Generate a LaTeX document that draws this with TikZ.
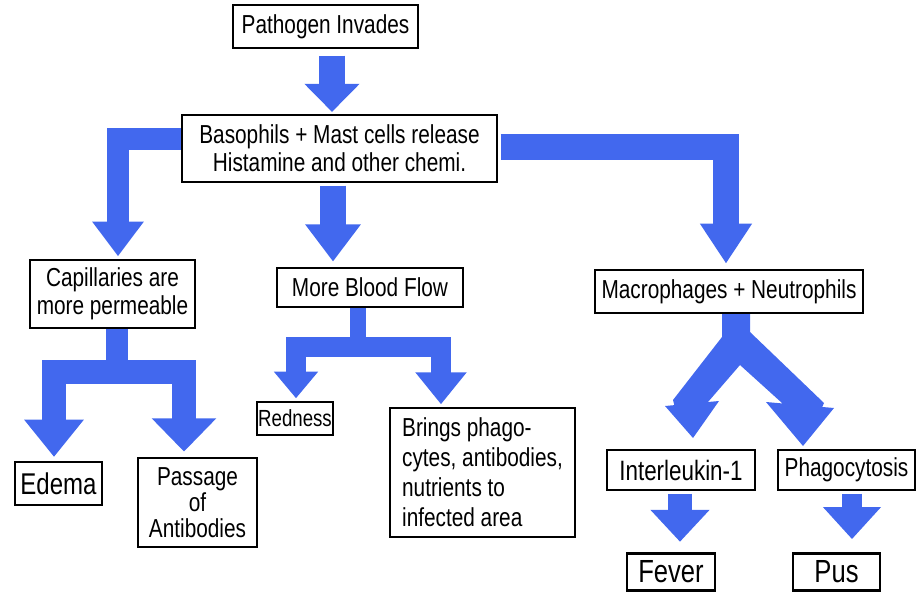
\documentclass[tikz,border=0pt]{standalone}
\usepackage{fontspec}
\setmainfont[FakeStretch=0.8]{Liberation Sans}
\usetikzlibrary{arrows.meta}
\definecolor{ablue}{RGB}{66,104,238}
\begin{document}
\begin{tikzpicture}[x=0.75pt,y=-0.75pt,
  box/.style={draw=black, line width=1.6pt, inner sep=0pt, align=center,
    font=\fontsize{19.5}{21}\selectfont},
  sz/.style 2 args={minimum width=#1*0.75pt, minimum height=#2*0.75pt},
  blk/.style={draw=ablue, line join=miter, line cap=butt},
]
\useasboundingbox (0,0) rectangle (922,593);

% boxes
\node[box, sz={185}{43}] (path) at (325.5,26.5) {Pathogen Invades};
\node[box, sz={315}{67}] (baso) at (339.5,148.5) {Basophils + Mast cells release\\Histamine and other chemi.};
\node[box, sz={165}{68}] (cap) at (112.5,294) {Capillaries are\\more permeable};
\node[box, sz={186}{39}] (blood) at (370,287.5) {More Blood Flow};
\node[box, sz={268}{43}] (macro) at (729,291.5) {Macrophages + Neutrophils};
\node[box, sz={87}{43}, font=\fontsize{22.5}{24}\selectfont] (edema) at (58.5,483.5) {Edema};
\node[box, sz={119}{89}, font=\fontsize{19.5}{19.5}\selectfont] (pass) at (197.5,502.5) {Passage\\of\\Antibodies};
\node[box, sz={76}{33}, font=\fontsize{17.5}{18}\selectfont] (red) at (295,418.5) {Redness};
\node[box, sz={185}{129}, align=left, font=\fontsize{19.5}{22.5}\selectfont] (brings) at (482.5,472.5) {Brings phago-\\cytes, antibodies,\\nutrients to\\infected area};
\node[box, sz={148}{40}, font=\fontsize{21}{22}\selectfont] (inter) at (681,470) {Interleukin-1};
\node[box, sz={137}{40}] (phago) at (846.5,470) {Phagocytosis};
\node[box, sz={88}{37}, font=\fontsize{24}{26}\selectfont] (fever) at (671,572) {Fever};
\node[box, sz={87}{37}, font=\fontsize{24}{26}\selectfont] (pus) at (836.5,572) {Pus};

% straight arrows
\draw[blk, line width=20pt, shorten <=5pt, shorten >=1.5pt, -{Triangle[length=21pt,width=40pt]}]
  (332,0 |- path.south) -- (332,0 |- baso.north);
\draw[blk, line width=20pt, shorten <=2pt, shorten >=4pt, -{Triangle[length=28pt,width=40pt]}]
  (333,0 |- baso.south) -- (333,0 |- blood.north);

% left and right elbow arrows from the histamine box
\draw[blk, line width=16pt, shorten >=2pt, -{Triangle[length=26pt,width=37pt]}]
  (baso.west |- 0,139) -| (118,0 |- cap.north);
\draw[blk, line width=19pt, shorten <=2pt, shorten >=4pt, -{Triangle[length=30pt,width=37pt]}]
  (baso.east |- 0,147) -| (726,0 |- macro.north);

% capillaries split
\draw[blk, line width=16pt] (117,0 |- cap.south) -- (117,383);
\draw[blk, line width=18pt, shorten >=3pt, -{Triangle[length=28pt,width=43pt]}]
  (117,372) -| (54,0 |- edema.north);
\draw[blk, line width=18pt, shorten >=4pt, -{Triangle[length=25pt,width=47pt]}]
  (117,372) -| (184,0 |- pass.north);

% blood flow split
\draw[blk, line width=12pt] (358,0 |- blood.south) -- (358,356);
\draw[blk, line width=15pt, shorten >=2pt, -{Triangle[length=20pt,width=32pt]}]
  (358,347) -| (296,0 |- red.north);
\draw[blk, line width=15pt, shorten >=2pt, -{Triangle[length=24pt,width=37pt]}]
  (358,347) -| (441,0 |- brings.north);

% macrophages V-shaped arrow
\fill[ablue] (722,314) -- (750,314) -- (750,332) -- (824,403) -- (820,412) -- (784,412)
  -- (782,403) -- (740,365) -- (708,402) -- (708,412) -- (676,412) -- (673,400) -- (722,337) -- cycle;
\fill[ablue] (665,406) -- (719,401) -- (693,438) -- cycle;
\fill[ablue] (766,402) -- (834,408) -- (803,446) -- cycle;

% small arrows
\draw[blk, line width=18pt, shorten <=2pt, shorten >=8pt, -{Triangle[length=24pt,width=43pt]}]
  (680,0 |- inter.south) -- (680,0 |- fever.north);
\draw[blk, line width=15pt, shorten <=2pt, shorten >=10pt, -{Triangle[length=24pt,width=42pt]}]
  (852,0 |- phago.south) -- (852,0 |- pus.north);
\end{tikzpicture}
\end{document}
